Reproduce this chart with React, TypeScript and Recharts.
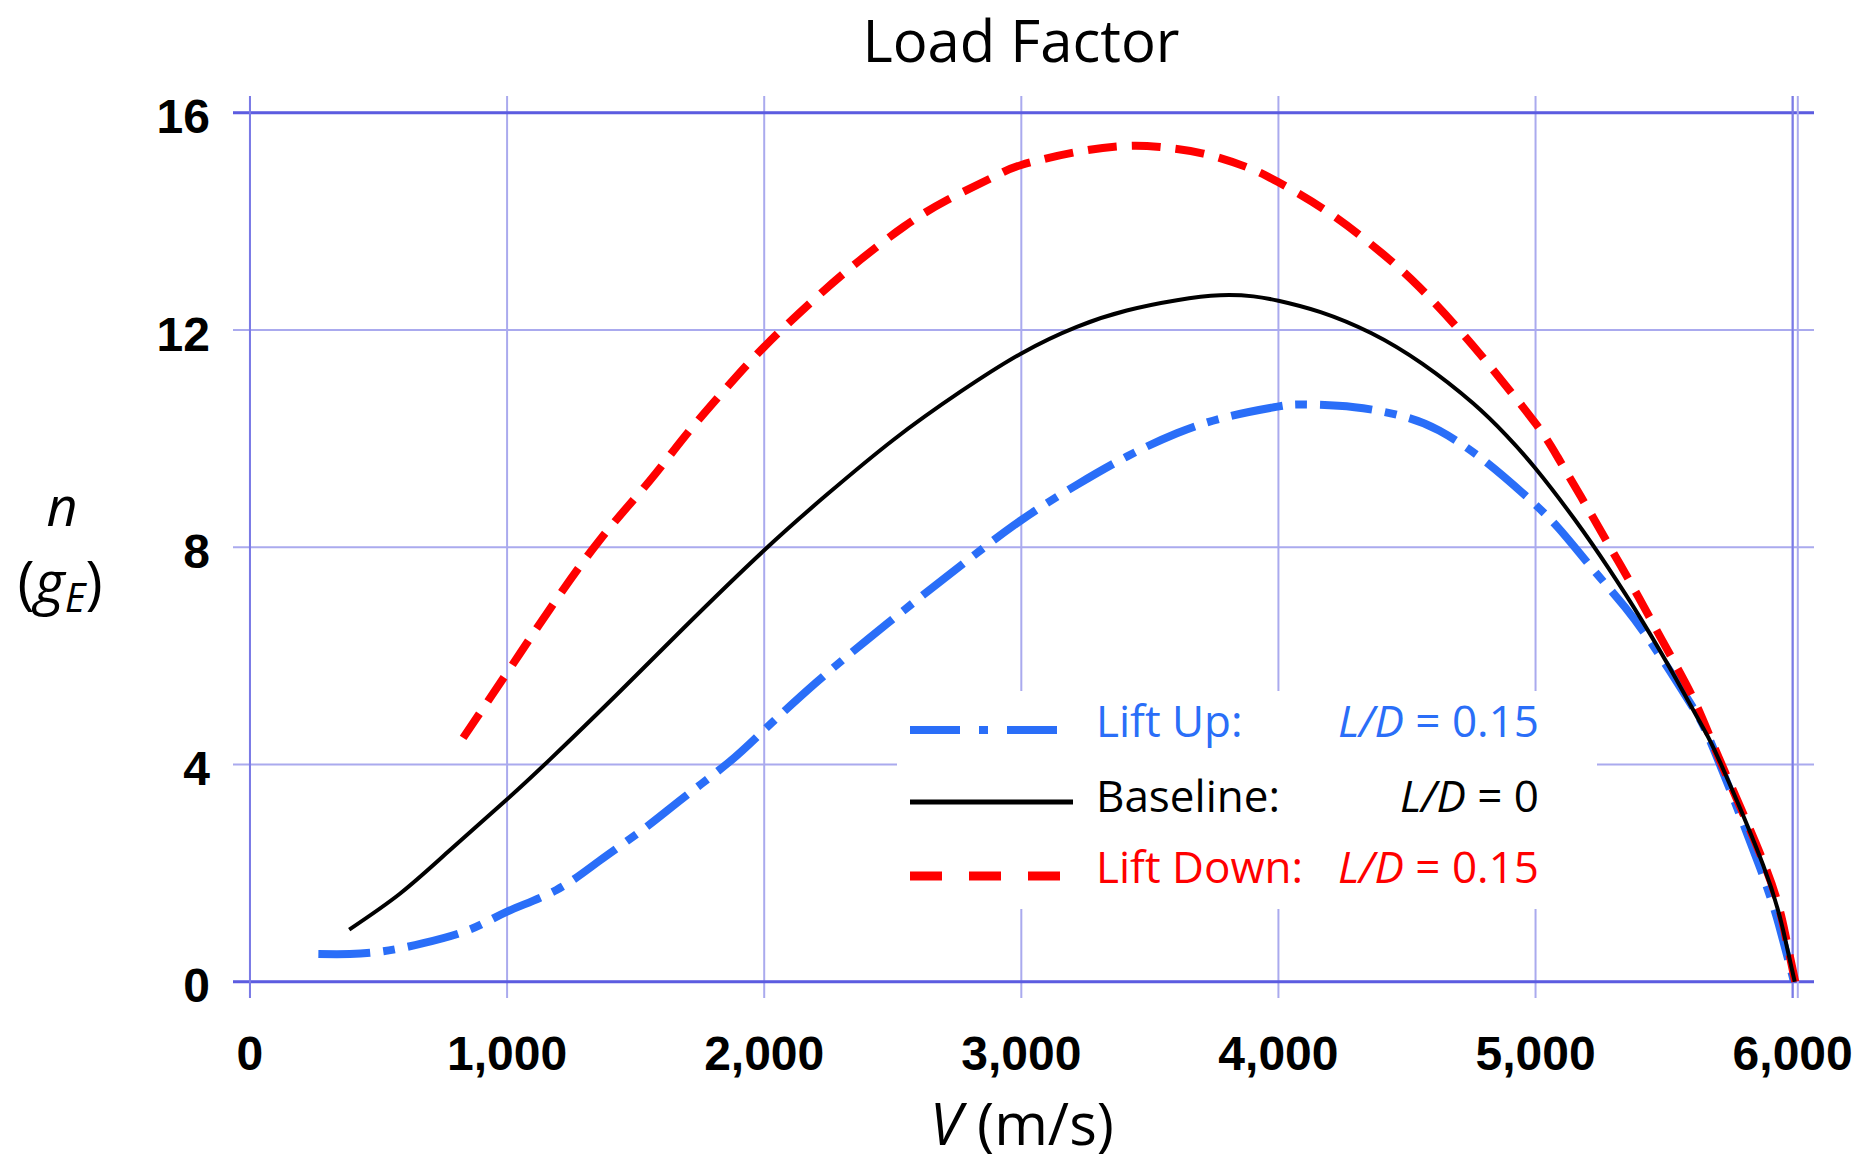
import React from "react";
import {
  LineChart,
  Line,
  XAxis,
  YAxis,
  CartesianGrid,
  ReferenceLine,
} from "recharts";

// velocity (m/s) and load factor n (g_E)
const liftUpV = [266, 389, 518, 674, 855, 1000, 1192, 1360, 1528, 1684, 1865, 2001, 2200, 2399, 2607, 2788, 3000, 3216, 3410, 3605, 3799, 3997, 4099, 4296, 4493, 4625, 4783, 4954, 5086, 5217, 5349, 5480, 5612, 5700, 5873, 5955, 6005];
const liftUpN = [0.51, 0.51, 0.56, 0.71, 0.96, 1.29, 1.69, 2.23, 2.8, 3.38, 4.05, 4.64, 5.5, 6.29, 7.08, 7.75, 8.5, 9.15, 9.67, 10.1, 10.4, 10.59, 10.63, 10.58, 10.4, 10.15, 9.66, 8.98, 8.37, 7.63, 6.89, 6.03, 5.05, 4.2, 2.1, 0.9, 0];

const baselineV = [386, 583, 777, 1000, 1166, 1425, 1684, 2001, 2244, 2503, 2762, 3000, 3216, 3410, 3605, 3773, 3903, 4000, 4164, 4362, 4559, 4757, 4888, 5000, 5151, 5283, 5414, 5546, 5651, 5717, 5885, 5963, 6008];
const baselineN = [0.96, 1.62, 2.42, 3.36, 4.09, 5.28, 6.5, 7.95, 8.97, 9.98, 10.86, 11.57, 12.06, 12.36, 12.55, 12.64, 12.62, 12.54, 12.33, 11.94, 11.38, 10.65, 10.05, 9.45, 8.52, 7.62, 6.65, 5.58, 4.68, 4.05, 2.15, 0.95, 0];

const liftDownV = [829, 1000, 1166, 1360, 1554, 1684, 1839, 2000, 2205, 2373, 2542, 2710, 2892, 3000, 3216, 3410, 3540, 3708, 3877, 3997, 4200, 4401, 4546, 4704, 4836, 5000, 5086, 5178, 5283, 5401, 5493, 5612, 5715, 5895, 5970, 6010];
const liftDownN = [4.49, 5.69, 6.86, 8.13, 9.22, 10.0, 10.86, 11.69, 12.61, 13.29, 13.9, 14.39, 14.82, 15.04, 15.28, 15.39, 15.37, 15.25, 15.0, 14.73, 14.15, 13.42, 12.8, 12.0, 11.26, 10.28, 9.66, 8.92, 8.06, 7.08, 6.28, 5.23, 4.1, 2.1, 0.9, 0];

const xTicks = [0, 1000, 2000, 3000, 4000, 5000, 6000];
const yTicks = [0, 4, 8, 12, 16];

const BLUE = "#2A6EF8";
const RED = "#FF0000";
const GRID = "#aaaaee";
const GRID_DARK = "#5c5ce0";
const TEXT_FONT = "'Open Sans', sans-serif";
const TICK_FONT = "'Liberation Sans', Arial, sans-serif";

const toRows = (v: number[], n: number[]) => v.map((x, i) => ({ v: x, n: n[i] }));

const liftUp = toRows(liftUpV, liftUpN);
const baseline = toRows(baselineV, baselineN);
const liftDown = toRows(liftDownV, liftDownN);

const XTick = ({ x, y, payload }: any) => (
  <text x={x} y={y + 49} textAnchor="middle" dominantBaseline="central"
    fontFamily={TICK_FONT} fontWeight={700} fontSize={48} fill="#000">
    {Number(payload.value).toLocaleString("en-US")}
  </text>
);

const YTick = ({ x, y, payload }: any) => (
  <text x={x} y={y + 4} textAnchor="end" dominantBaseline="central"
    fontFamily={TICK_FONT} fontWeight={700} fontSize={48} fill="#000">
    {payload.value}
  </text>
);

function LegendBox() {
  return (
    <svg width={700} height={218}
      style={{ position: "absolute", left: 897, top: 691, background: "#fff" }}>
      <line x1={13} x2={165} y1={39} y2={39} stroke={BLUE} strokeWidth={8} strokeDasharray="50 19 9 19" />
      <line x1={13} x2={176} y1={111} y2={111} stroke="#000" strokeWidth={5} />
      <line x1={13} x2={168} y1={185} y2={185} stroke={RED} strokeWidth={9} strokeDasharray="32 27" />
      <g fontFamily={TEXT_FONT} fontSize={44}>
        <text x={199} y={46} fill={BLUE}>Lift Up:</text>
        <text x={642} y={46} fill={BLUE} textAnchor="end">
          <tspan fontStyle="italic">L/D</tspan> = 0.15
        </text>
        <text x={199} y={121} fill="#000">Baseline:</text>
        <text x={642} y={121} fill="#000" textAnchor="end">
          <tspan fontStyle="italic">L/D</tspan> = 0
        </text>
        <text x={199} y={192} fill={RED}>Lift Down:</text>
        <text x={642} y={192} fill={RED} textAnchor="end">
          <tspan fontStyle="italic">L/D</tspan> = 0.15
        </text>
      </g>
    </svg>
  );
}

export default function App() {
  return (
    <div style={{ position: "absolute", left: 0, top: 0, width: 1875, height: 1162, background: "#fff" }}>
      <LineChart width={1875} height={1162} margin={{ top: 96, right: 61, left: 0, bottom: 0 }}>
        <CartesianGrid stroke={GRID} strokeWidth={2} horizontalValues={yTicks} verticalValues={xTicks} />
        <XAxis type="number" dataKey="v" domain={[-66, 6083]} ticks={xTicks} allowDataOverflow
          height={164} axisLine={false} tickLine={false} tickSize={6} tickMargin={0} tick={<XTick />} />
        <YAxis type="number" domain={[-0.3, 16.31]} ticks={yTicks} allowDataOverflow
          width={233} axisLine={false} tickLine={false} tickSize={6} tickMargin={17} tick={<YTick />} />
        <ReferenceLine y={16} stroke={GRID_DARK} strokeWidth={3} />
        <ReferenceLine y={0} stroke={GRID_DARK} strokeWidth={3} />
        <ReferenceLine x={0} stroke="#7a7ae6" strokeWidth={2} />
        <ReferenceLine x={6000} stroke="#7a7ae6" strokeWidth={2} />
        <ReferenceLine x={6020} stroke={GRID} strokeWidth={2} />
        <Line data={liftUp} dataKey="n" type="natural" stroke={BLUE} strokeWidth={8}
          strokeDasharray="52 13 12 13" dot={false} isAnimationActive={false} />
        <Line data={liftDown} dataKey="n" type="natural" stroke={RED} strokeWidth={8}
          strokeDasharray="29 15" dot={false} isAnimationActive={false} />
        <Line data={baseline} dataKey="n" type="natural" stroke="#000" strokeWidth={4}
          dot={false} isAnimationActive={false} />
      </LineChart>

      <LegendBox />

      <div style={{ position: "absolute", left: 0, top: 0, width: 2042, textAlign: "center",
        fontFamily: TEXT_FONT, fontSize: 58, lineHeight: "80px", color: "#000" }}>
        Load Factor
      </div>

      <svg width={1875} height={1162} style={{ position: "absolute", left: 0, top: 0, pointerEvents: "none" }}>
        <g fontFamily={TEXT_FONT} fill="#000">
          <text x={62} y={526} fontSize={54} fontStyle="italic" textAnchor="middle">n</text>
          <text x={60} y={603} fontSize={58} textAnchor="middle">
            (<tspan fontStyle="italic">g</tspan><tspan fontStyle="italic" fontSize={40} dy={9}>E</tspan><tspan dy={-9}>)</tspan>
          </text>
          <text x={1022} y={1145} fontSize={58} textAnchor="middle">
            <tspan fontStyle="italic">V</tspan> (m/s)
          </text>
        </g>
      </svg>
    </div>
  );
}
